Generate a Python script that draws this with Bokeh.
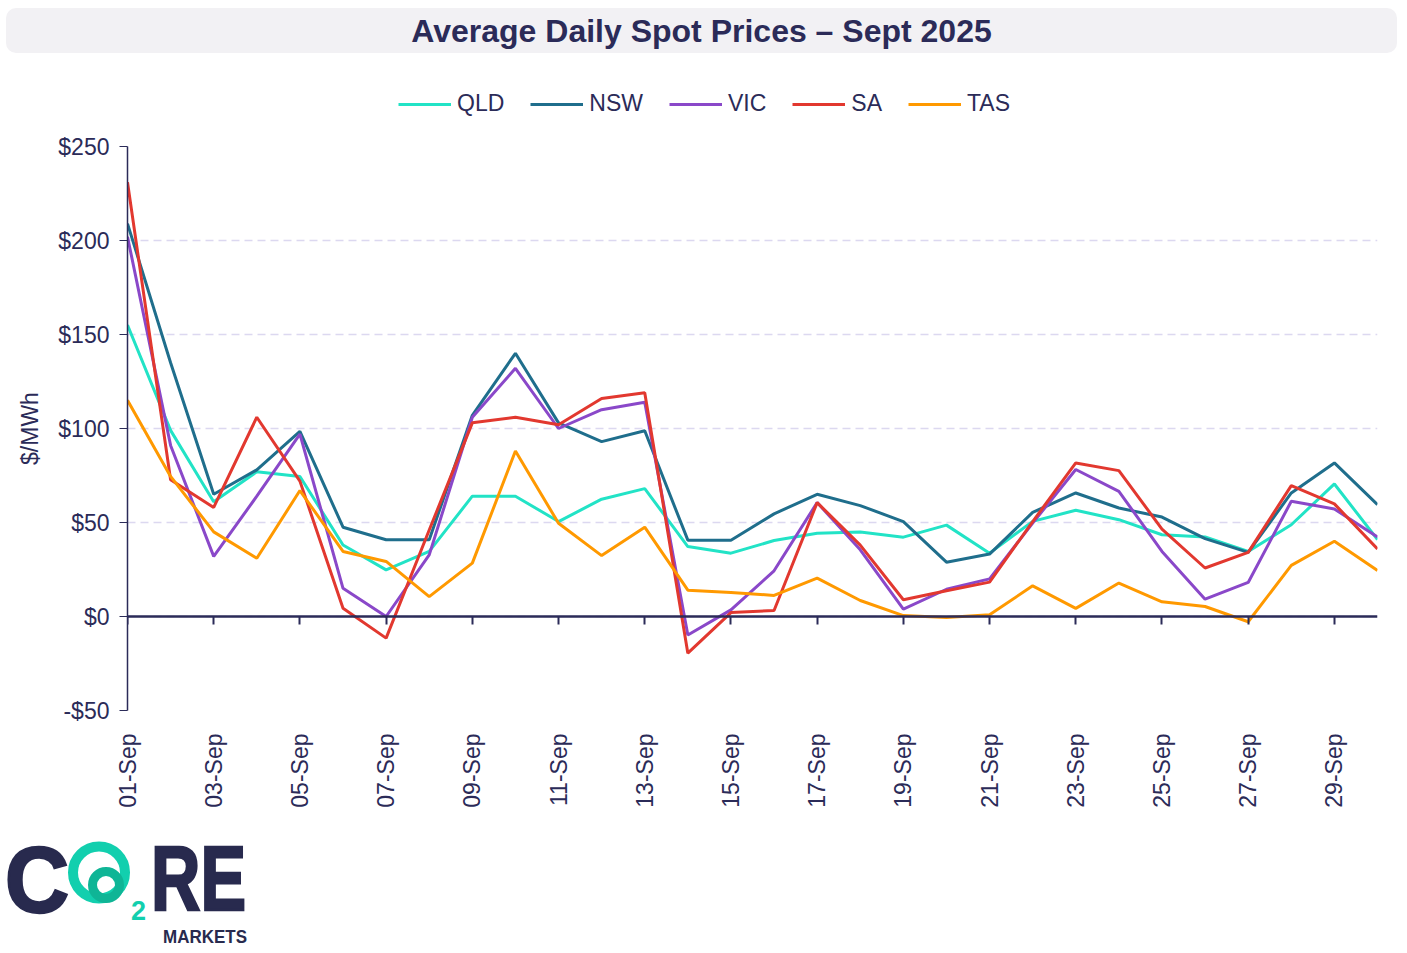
import math

from bokeh.embed import file_html
from bokeh.layouts import column
from bokeh.models import Div, FixedTicker, Legend, LegendItem, LinearAxis, Range1d
from bokeh.plotting import figure
from bokeh.resources import INLINE

# get data

days = list(range(1, 31))
day_labels = ["%02d-Sep" % d for d in days]

qld = [155, 99, 61, 77, 74.5, 38, 24.8, 34.6, 64, 64, 50.5, 62.4, 68, 37.2, 33.7,
       40.4, 44.3, 44.9, 42.2, 48.6, 33.7, 50.6, 56.5, 51.5, 43.5, 42.3, 34.6, 48.8, 70.5, 40.9]
nsw = [209, 135, 65, 78, 98.5, 47.5, 40.8, 40.8, 107, 140, 103, 93, 98.8, 40.6, 40.6,
       54.6, 65, 59, 50.5, 28.9, 33.2, 55.4, 65.7, 57.7, 52.9, 41.4, 34.1, 65.7, 81.7, 59.5]
vic = [202, 91, 32, 64, 97, 15, 0, 32.8, 106, 132, 100, 110, 114, -9.8, 3.5,
       24.3, 60.6, 35.5, 3.9, 14.5, 20, 49.7, 78.2, 66.6, 34.6, 9.2, 18.1, 61.3, 57.2, 42.3]
sa = [231, 72.7, 58, 106, 72, 4.4, -11.5, 46, 103, 106, 102, 116, 119, -19.5, 2.1,
      3.2, 60.6, 38, 8.9, 13.7, 18.3, 50.5, 81.7, 77.6, 46.5, 25.8, 34.1, 69.6, 59.9, 35.9]
tas = [115, 74.5, 45, 31, 67, 34.6, 29.3, 10.6, 28.4, 88, 49.6, 32.4, 47.5, 14, 12.8,
       11.2, 20.4, 8.5, 0.5, -0.5, 0.9, 16.3, 4.3, 17.8, 7.8, 5.3, -2.8, 27.2, 40, 24.5]

regions = ["QLD", "NSW", "VIC", "SA", "TAS"]
series = [qld, nsw, vic, sa, tas]
colors = ["#22e3c6", "#1f6e8c", "#8a48c9", "#e2382f", "#ff9900"]

y_ticks = [-50, 0, 50, 100, 150, 200, 250]
x_ticks = days[::2]

NAVY = "#2b2b58"
FONT = "Liberation Sans"
FS = "23px"

title = Div(
    text='<div style="position:absolute;left:6px;top:8px;width:1391px;height:45px;'
         'background:#f2f1f4;border-radius:10px;display:flex;align-items:center;'
         'justify-content:center;font-family:\'Liberation Sans\';font-weight:bold;'
         'font-size:32px;color:%s;padding-top:3px;box-sizing:border-box">'
         'Average Daily Spot Prices – Sept 2025</div>' % NAVY,
    width=1400, height=54, margin=0)

# strip holding the legend, between title and chart; its lines are out of view
key = figure(width=1400, height=78, output_backend="svg", toolbar_location=None,
             tools="", x_range=Range1d(-20, -10), y_range=Range1d(0, 1),
             min_border=0, margin=0)
key.axis.visible = False
key.grid.visible = False
key.outline_line_color = None

p = figure(frame_width=1250, frame_height=564, output_backend="svg",
           toolbar_location=None, tools="",
           x_range=Range1d(1, 30), y_range=Range1d(-50, 250),
           min_border_left=127, min_border_right=20, min_border_top=14,
           min_border_bottom=100, margin=0)
p.outline_line_color = None

items = []
for name, vals, col in zip(regions, series, colors):
    p.line(days, vals, line_color=col, line_width=3)
    k = key.line(days, vals, line_color=col, line_width=3)
    items.append(LegendItem(label=name, renderers=[k]))

legend = Legend(items=items, orientation="horizontal", location=(271, 15),
                label_text_font=FONT, label_text_font_size=FS,
                label_text_color=NAVY, glyph_width=53, label_standoff=6,
                spacing=26, border_line_color=None, background_fill_alpha=0)
key.add_layout(legend)

# date labels along the bottom
p.xaxis.ticker = FixedTicker(ticks=x_ticks)
p.xaxis.major_label_overrides = {d: day_labels[d - 1] for d in x_ticks}
p.xaxis.major_label_orientation = math.pi / 2
p.xaxis.axis_line_color = None
p.xaxis.major_tick_line_color = None
p.xaxis.minor_tick_line_color = None
p.xaxis.major_label_standoff = 17
p.xaxis.major_label_text_font = FONT
p.xaxis.major_label_text_font_size = FS
p.xaxis.major_label_text_color = NAVY

# axis line and ticks on zero
zero_axis = LinearAxis(fixed_location=0, ticker=FixedTicker(ticks=x_ticks),
                       axis_line_color=NAVY, axis_line_width=2.5,
                       major_tick_line_color=NAVY, major_tick_line_width=2,
                       major_tick_in=0, major_tick_out=8,
                       minor_tick_line_color=None, major_label_text_color=None)
p.add_layout(zero_axis, "below")

p.yaxis.ticker = FixedTicker(ticks=y_ticks)
p.yaxis.major_label_overrides = {v: ("-$%d" % -v if v < 0 else "$%d" % v) for v in y_ticks}
p.yaxis.axis_label = "$/MWh"
p.yaxis.axis_label_text_font = FONT
p.yaxis.axis_label_text_font_size = FS
p.yaxis.axis_label_text_font_style = "normal"
p.yaxis.axis_label_text_color = NAVY
p.yaxis.axis_label_standoff = 12
p.yaxis.major_label_text_font = FONT
p.yaxis.major_label_text_font_size = FS
p.yaxis.major_label_text_color = NAVY
p.yaxis.major_label_standoff = 10
p.yaxis.axis_line_color = NAVY
p.yaxis.axis_line_width = 1.5
p.yaxis.major_tick_line_color = NAVY
p.yaxis.major_tick_in = 0
p.yaxis.major_tick_out = 8
p.yaxis.minor_tick_line_color = None

p.xgrid.grid_line_color = None
p.ygrid.grid_line_color = "#dcd8f0"
p.ygrid.grid_line_width = 1.5
p.ygrid.grid_line_dash = "8 5"

logo = Div(text="""
<svg width="260" height="140" xmlns="http://www.w3.org/2000/svg">
  <text x="5" y="102" font-family="Lato" font-weight="bold" font-size="93"
        fill="#282a4e" stroke="#282a4e" stroke-width="2.5"
        textLength="64" lengthAdjust="spacingAndGlyphs">C</text>
  <circle cx="99" cy="62.5" r="26" fill="none" stroke="#12cfae" stroke-width="10"/>
  <circle cx="106" cy="75" r="13.5" fill="none" stroke="#0fb596" stroke-width="9"/>
  <text x="131" y="110" font-family="Lato" font-weight="bold" font-size="27"
        fill="#12cfae">2</text>
  <text x="151" y="100" font-family="Lato" font-weight="bold" font-size="90"
        fill="#282a4e" stroke="#282a4e" stroke-width="2.5"
        textLength="95" lengthAdjust="spacingAndGlyphs">RE</text>
  <text x="163" y="133" font-family="Lato" font-weight="bold" font-size="18"
        fill="#282a4e" textLength="84" lengthAdjust="spacingAndGlyphs">MARKETS</text>
</svg>""", width=260, height=140, margin=0)

layout = column(title, key, p, logo, spacing=0)

open("out.html", "w").write(file_html(layout, INLINE))
